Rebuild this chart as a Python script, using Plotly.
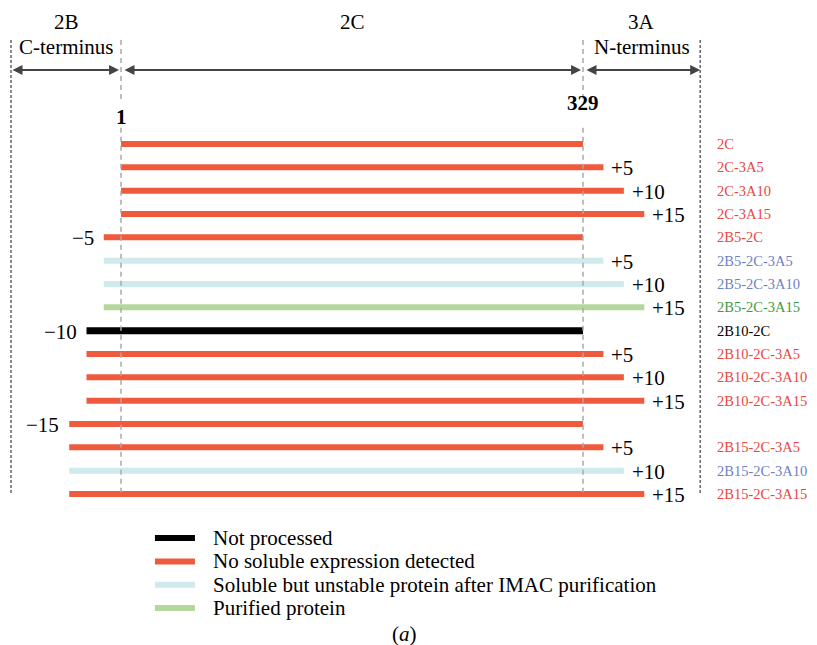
import plotly.graph_objects as go

# ---------------- data ----------------
constructs = ["2C", "2C-3A5", "2C-3A10", "2C-3A15",
              "2B5-2C", "2B5-2C-3A5", "2B5-2C-3A10", "2B5-2C-3A15",
              "2B10-2C", "2B10-2C-3A5", "2B10-2C-3A10", "2B10-2C-3A15",
              "2B15-2C", "2B15-2C-3A5", "2B15-2C-3A10", "2B15-2C-3A15"]
n_ext = [0, 0, 0, 0, -5, -5, -5, -5, -10, -10, -10, -10, -15, -15, -15, -15]
c_ext = [0, 5, 10, 15, 0, 5, 10, 15, 0, 5, 10, 15, 0, 5, 10, 15]
status = ["none", "none", "none", "none",
          "none", "unstable", "unstable", "purified",
          "notproc", "none", "none", "none",
          "none", "none", "unstable", "none"]
label_shown = [True] * 12 + [False] + [True] * 3
body_start, body_end = 1, 329

status_order = ["notproc", "none", "unstable", "purified"]
status_names = {"notproc": "Not processed",
                "none": "No soluble expression detected",
                "unstable": "Soluble but unstable protein after IMAC purification",
                "purified": "Purified protein"}

# ---------------- styles ----------------
bar_colors = {"notproc": "#000000", "none": "#f05a3c",
              "unstable": "#cfeaec", "purified": "#b4d89c"}
bar_widths = {"notproc": 7, "none": 6, "unstable": 6, "purified": 6}
label_colors = {"notproc": "#000000", "none": "#e8473e",
                "unstable": "#6f7fc4", "purified": "#3f9a45"}

LEFT_SCALE = 2.45    # schematic stretch of 2B residues
RIGHT_SCALE = 2.9    # schematic stretch of 3A residues
BOUND_L, BOUND_R = -77.1, 412.2
FAM = "Liberation Serif"


def f(size, color="black"):
    return dict(family=FAM, size=size, color=color)


fig = go.Figure()

starts = [body_start + n * LEFT_SCALE for n in n_ext]
ends = [body_end + c * RIGHT_SCALE for c in c_ext]

for st in status_order:
    xs, ys = [], []
    for i in range(len(constructs)):
        if status[i] == st:
            xs += [starts[i], ends[i], None]
            ys += [i, i, None]
    fig.add_trace(go.Scatter(x=xs, y=ys, mode="lines", name=status_names[st],
                             line=dict(color=bar_colors[st], width=bar_widths[st]),
                             showlegend=False, hoverinfo="skip"))

annotations = []
shapes = []

# row labels + offset labels
for i, name in enumerate(constructs):
    if label_shown[i]:
        annotations.append(dict(x=422.7, y=i, text=name, xanchor="left", showarrow=False,
                                font=f(14.5, label_colors[status[i]])))
    if c_ext[i] > 0:
        annotations.append(dict(x=ends[i], y=i, text="+%d" % c_ext[i], xanchor="left",
                                xshift=6, yshift=-1, showarrow=False, font=f(21)))
    if n_ext[i] != 0 and c_ext[i] == 0:
        annotations.append(dict(x=starts[i], y=i, text="\u2212%d" % (-n_ext[i]), xanchor="right",
                                xshift=-8, yshift=-1, showarrow=False, font=f(21)))

# domain boundaries
for xb in (BOUND_L, BOUND_R):
    shapes.append(dict(type="line", x0=xb, x1=xb, y0=-4.46, y1=15.0,
                       line=dict(color="#666666", width=1.5, dash="3px,2px")))
for xb in (body_start, body_end):
    for (y0, y1) in ((-4.46, -1.9), (-0.7, 14.92)):
        shapes.append(dict(type="line", x0=xb, x1=xb, y0=y0, y1=y1,
                           line=dict(color="#aaaaaa", width=1.5, dash="5px,4px")))

# double arrows
arrow_y = -3.17
for (xa, xb) in ((BOUND_L, -0.4), (2.4, 327.6), (330.4, BOUND_R)):
    annotations.append(dict(x=xb, y=arrow_y, ax=xa, ay=arrow_y, xref="x", yref="y",
                            axref="x", ayref="y", text="", showarrow=True,
                            arrowhead=2, startarrowhead=2, arrowside="end+start",
                            arrowsize=1.0, startarrowsize=1.0, arrowwidth=2,
                            arrowcolor="#444444"))

# headers
headers = [((BOUND_L + body_start) / 2, "2B", "C-terminus"),
           ((body_start + body_end) / 2, "2C", None),
           ((body_end + BOUND_R) / 2, "3A", "N-terminus")]
for (xc, top, sub) in headers:
    annotations.append(dict(x=xc, y=-5.23, text=top, showarrow=False, font=f(21)))
    if sub:
        annotations.append(dict(x=xc, y=-4.16, text=sub, showarrow=False, font=f(21)))

annotations.append(dict(x=body_start, y=-1.16, text="<b>%d</b>" % body_start, showarrow=False,
                        font=f(21)))
annotations.append(dict(x=body_end, y=-1.76, text="<b>%d</b>" % body_end, showarrow=False,
                        font=f(21)))

# legend (manual)
for k, st in enumerate(status_order):
    yy = 16.89 + k
    shapes.append(dict(type="line", x0=25.1, x1=53.5, y0=yy, y1=yy,
                       line=dict(color=bar_colors[st], width=6)))
    annotations.append(dict(x=64.9, y=yy, text=status_names[st], xanchor="left",
                            showarrow=False, font=f(21)))

annotations.append(dict(x=202.6, y=21.0, text="(<i>a</i>)", showarrow=False, font=f(21)))

# page has an 8px body margin, so ranges are set so the drawing lands where the reference has it
fig.update_layout(
    width=817, height=645,
    margin=dict(l=0, r=0, t=0, b=0),
    paper_bgcolor="white", plot_bgcolor="white",
    font=dict(family=FAM, color="black"),
    xaxis=dict(range=[-79.23, 500.8], visible=False, fixedrange=True),
    yaxis=dict(range=[21.814, -5.829], visible=False, fixedrange=True),
    annotations=annotations, shapes=shapes, showlegend=False,
)

fig.write_html("out.html")
